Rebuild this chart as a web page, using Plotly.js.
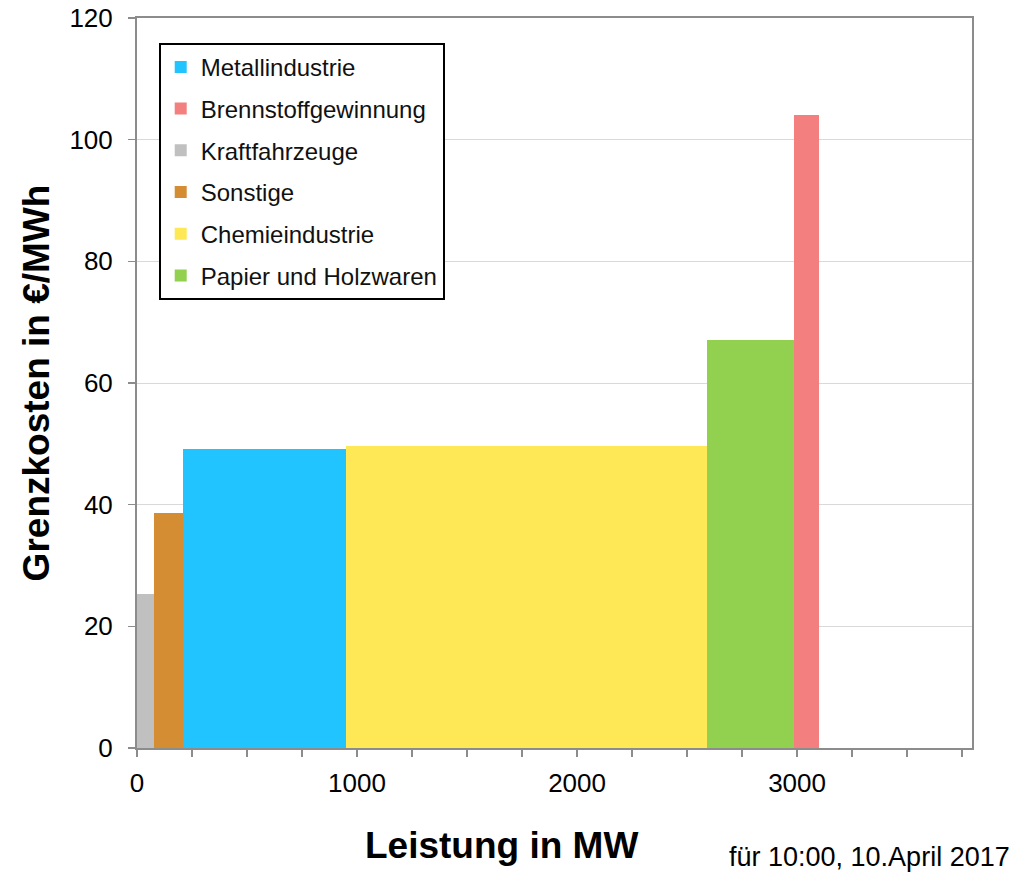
<!DOCTYPE html>
<html>
<head>
<meta charset="utf-8">
<script src="https://cdn.plot.ly/plotly-3.0.1.min.js"></script>
<style>html,body{margin:0;padding:0;background:#fff;}#chart{width:1017px;height:874px;}</style>
</head>
<body>
<div id="chart"></div>
<script>
// Merit order: sectors in order of marginal cost
const sectors = ["Kraftfahrzeuge", "Sonstige", "Metallindustrie", "Chemieindustrie", "Papier und Holzwaren", "Brennstoffgewinnung"];
const capacityMW = [78, 132, 740, 1641, 395, 114];
const costEurMWh = [25.3, 38.6, 49.1, 49.6, 67.0, 104.0];
const legendRank = [3, 4, 1, 5, 6, 2];
const colors = ["#C0C0C0", "#D58D33", "#22C4FF", "#FEE856", "#92D050", "#F47F7F"];
const xTickVals = [0, 1000, 2000, 3000];
const xTickText = ["0", "1000", "2000", "3000"];
const yTickVals = [0, 20, 40, 60, 80, 100, 120];

let start = 0;
const traces = sectors.map((name, i) => {
  const t = {
    type: "bar",
    name: name,
    x: [start],
    y: [costEurMWh[i]],
    width: [capacityMW[i]],
    offset: 0,
    marker: {color: colors[i], line: {width: 0}},
    legendrank: legendRank[i],
    legendgroup: "g" + i,
    hoverinfo: "name+y"
  };
  start += capacityMW[i];
  return t;
});

const axisCol = "#8C8C8C";
const layout = {
  width: 1017, height: 874,
  margin: {l: 137, r: 45, t: 18, b: 126},
  paper_bgcolor: "#fff", plot_bgcolor: "#fff",
  font: {family: "Liberation Sans, Arial, sans-serif", color: "#000"},
  barmode: "overlay",
  bargap: 0,
  showlegend: true,
  legend: {
    x: 0.026, y: 0.966, xanchor: "left", yanchor: "top",
    bgcolor: "#fff", bordercolor: "#000", borderwidth: 2,
    font: {size: 24, color: "#111"},
    traceorder: "grouped",
    tracegroupgap: 7.5,
    itemwidth: 30
  },
  xaxis: {
    range: [0, 3795],
    tickvals: xTickVals, ticktext: xTickText,
    ticks: "outside", ticklen: 7, tickcolor: axisCol, tickwidth: 1.5,
    ticklabelstandoff: 4,
    minor: {dtick: 250, ticks: "outside", ticklen: 7, tickcolor: axisCol, tickwidth: 1.5, showgrid: false},
    showline: true, linecolor: axisCol, linewidth: 2, mirror: true,
    showgrid: false, zeroline: false,
    tickfont: {size: 26}
  },
  yaxis: {
    range: [0, 120],
    tickvals: yTickVals,
    ticks: "outside", ticklen: 7, tickcolor: axisCol, tickwidth: 1.5,
    ticklabelstandoff: 10,
    showline: true, linecolor: axisCol, linewidth: 2, mirror: true,
    showgrid: true, gridcolor: "#D9D9D9", gridwidth: 1,
    zeroline: false,
    tickfont: {size: 26},
    title: {text: "<b>Grenzkosten in €/MWh</b>", font: {size: 37}, standoff: 8}
  },
  annotations: [
    {
      text: "<b>Leistung in MW</b>",
      xref: "paper", yref: "paper",
      x: 0.437, y: -0.133, xanchor: "center", yanchor: "middle",
      showarrow: false, font: {size: 37, color: "#000"}
    },
    {
      text: "für 10:00, 10.April 2017",
      xref: "paper", yref: "paper",
      x: 1.048, y: -0.149, xanchor: "right", yanchor: "middle",
      showarrow: false, font: {size: 27, color: "#000"}
    }
  ]
};

Plotly.newPlot("chart", traces, layout, {displayModeBar: false, staticPlot: true});
</script>
</body>
</html>
